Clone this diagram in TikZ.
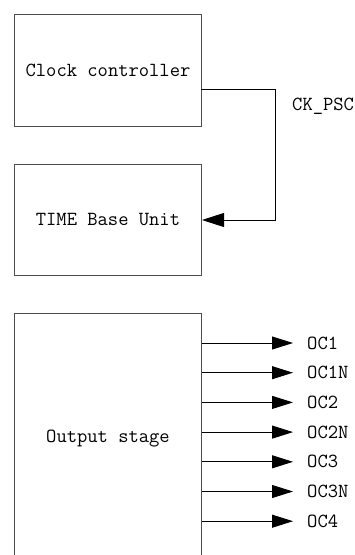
\documentclass[tikz,border=0pt]{standalone}
\usepackage{tikz}
\usetikzlibrary{arrows.meta,positioning}

\begin{document}
\begin{tikzpicture}[x=1pt, y=-1pt,
		font=\ttfamily\fontsize{20}{24}\selectfont,
		blockbox/.style={draw=black!70, line width=1pt, inner sep=0pt, anchor=north west, minimum width=187pt},
		sig/.style={line width=0.9pt, -{Triangle[length=21pt, width=13pt]}},
		siglbl/.style={inner sep=0pt, anchor=west}]
		\useasboundingbox (0,0) rectangle (354,555);
		\clip (0,0) rectangle (354,555);
		\fill[white] (0,0) rectangle (354,555);
		
		% Blocks
		\node[blockbox, minimum height=112pt] (clk) at (14,14) {Clock controller};
		\node[blockbox, minimum height=111pt] (tbu) at (14,164) {TIME Base Unit};
		\node[blockbox, minimum height=250pt] (out) at (14,313) {Output stage};
		
		% Clock path
		\coordinate (ckout) at (201,89);
		\node[siglbl] (ckpsc) at (292,106) {CK\_PSC};
		\draw[sig, -{Triangle[length=22pt, width=14pt]}] (ckout) -- ++(74,0) |- (tbu.east);
		
		% Outputs
		\foreach \i/\s in {0/OC1, 1/OC1N, 2/OC2, 3/OC2N, 4/OC3, 5/OC3N, 6/OC4} {
			\node[siglbl] (oc\i) at (307, 343+29.7*\i) {\s};
			\draw[sig, shorten >=14pt] (out.east |- oc\i) -- (oc\i.west);
		}
	\end{tikzpicture}
\end{document}
